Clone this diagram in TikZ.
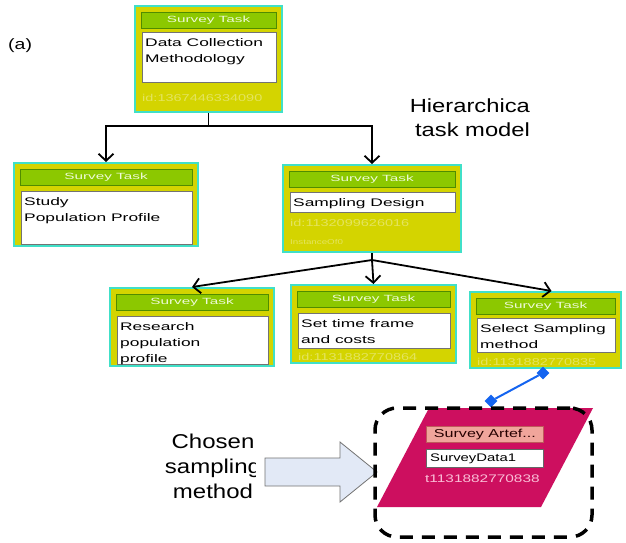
\documentclass[tikz,border=0pt]{standalone}
\usepackage{fontspec}
\setmainfont{Liberation Sans}
\usetikzlibrary{arrows.meta,fit,shapes.geometric}

\definecolor{tbcyan}{RGB}{64,224,200}
\definecolor{tbyellow}{RGB}{212,212,0}
\definecolor{tbgreen}{RGB}{140,200,0}
\definecolor{tbgreendk}{RGB}{80,140,0}
\definecolor{tbhead}{RGB}{238,250,215}
\definecolor{tbfaint}{RGB}{228,228,95}
\definecolor{artmag}{RGB}{205,15,95}
\definecolor{artpink}{RGB}{240,165,155}
\definecolor{artpinkdk}{RGB}{190,90,90}
\definecolor{artidtext}{RGB}{250,190,215}
\definecolor{linkblue}{RGB}{20,100,240}
\definecolor{bigarrow}{RGB}{226,233,246}

% horizontally widened text
\newcommand\hs[2]{\scalebox{#1}[1]{#2}}
\newcommand\bxl[1]{\hs{1.58}{#1}}

% a task box: name, left, top, right, bottom, text-area top, text-area bottom, text
\newcommand\taskbox[8]{%
  \node[taskouter, fit={(#2,#3) (#4,#5)}] (#1) {};
  \node[taskhead, fit={(#2+6,#3+6) (#4-6,#3+22)}] (#1-head) {};
  \node[headtext] at (#1-head) {\hs{1.7}{Survey Task}};
  \node[taskarea, fit={(#2+7,#6) (#4-6,#7)}] (#1-area) {};
  \node[tasktext, anchor=north west] (#1-text) at (#2+10,#6+6) {#8};
}

\begin{document}
\begin{tikzpicture}[x=1pt,y=-1pt,
  taskouter/.style={draw=tbcyan, line width=2pt, fill=tbyellow, inner sep=0pt},
  taskhead/.style={draw=tbgreendk, line width=0.8pt, fill=tbgreen, inner sep=0pt},
  headtext/.style={text=tbhead, font=\fontsize{9}{10}\selectfont, inner sep=0pt},
  taskarea/.style={draw=black!55, line width=0.8pt, fill=white, inner sep=0pt},
  tasktext/.style={font=\fontsize{11}{16}\selectfont, align=left, inner sep=0pt},
  idtext/.style={text=tbfaint, font=\fontsize{10}{12}\selectfont, inner sep=0pt, anchor=west},
  link/.style={draw=black, line width=1.8pt},
  tip/.style={-{Straight Barb[length=7pt,width=15pt]}},
  bluemark/.style={diamond, fill=linkblue, minimum size=13pt, inner sep=0pt},
  selbox/.style={draw=black, line width=3.5pt, rounded corners=22pt,
    dash pattern=on 13pt off 9pt, inner sep=0pt},
  biglabel/.style={font=\fontsize{20}{25}\selectfont, align=center, inner sep=0pt}
]
\useasboundingbox (0,0) rectangle (626,542);
\fill[white] (0,0) rectangle (626,542);

% label of the panel
\node[anchor=west, inner sep=0pt, font=\fontsize{15}{18}\selectfont] (panel) at (8,46) {\hs{1.3}{(a)}};

% task hierarchy
\taskbox{top}{135}{6}{282}{112}{32}{82}{\bxl{Data Collection}\\\bxl{Methodology}}
\node[idtext] (top-id) at (142,98) {\hs{1.45}{id:1367446334090}};

\taskbox{study}{14}{163}{198}{246}{191}{244}{\bxl{Study}\\\bxl{Population Profile}}

\taskbox{design}{283}{165}{461}{252}{192}{212}{\bxl{Sampling Design}}
\node[idtext] (design-id) at (290,223) {\hs{1.45}{id:1132099626016}};
\node[idtext, font=\fontsize{7}{8}\selectfont] (design-inst) at (290,242) {\hs{1.4}{InstanceOf0}};

\taskbox{research}{110}{288}{274}{366}{316}{364}{\bxl{Research}\\\bxl{population}\\\bxl{profile}}

\taskbox{timeframe}{291}{285}{456}{363}{313}{348}{\bxl{Set time frame}\\\bxl{and costs}}
\node[idtext] (timeframe-id) at (298,357) {\hs{1.45}{id:1131882770864}};

\taskbox{select}{470}{292}{621}{368}{318}{352}{\bxl{Select Sampling}\\\bxl{method}}
\node[idtext] (select-id) at (477,362) {\hs{1.45}{id:1131882770835}};

% hierarchy connectors
\path (top.south) ++(0,13) coordinate (j1);
\draw[link] (top.south) -- (j1);
\draw[link, tip] (j1) -| (study.north);
\draw[link, tip] (j1) -| (design.north);

\path (design.south) ++(0,7) coordinate (j2);
\draw[link] (design.south) -- (j2);
\draw[link, tip] (j2) -- (research.north);
\draw[link, tip] (j2) -- (timeframe.north);
\draw[link, tip] (j2) -- ([xshift=6pt]select.north);

% link to the artefact
\node[bluemark] (m1) at (543,373) {};
\node[bluemark] (m2) at (491,401) {};
\draw[linkblue, line width=2pt] (m1) -- (m2);

% artefact
\fill[artmag] (429,408) -- (593,408) -- (541,507) -- (377,507) -- cycle;
\node[draw=artpinkdk, line width=0.8pt, fill=artpink, minimum width=117pt, minimum height=16pt,
  inner sep=0pt, anchor=north west, font=\fontsize{11.5}{12}\selectfont, text=black!85!red]
  (artname) at (426,426) {\hs{1.4}{Survey Artef...}};
\node[draw=black!60, line width=0.8pt, fill=white, minimum width=117pt, minimum height=18pt,
  inner sep=0pt, anchor=north west] (artdata) at (426,449) {};
\node[anchor=west, inner sep=0pt, font=\fontsize{11}{12}\selectfont] (artdata-text)
  at ([xshift=4pt]artdata.west) {\hs{1.35}{SurveyData1}};
\node[anchor=west, inner sep=0pt, font=\fontsize{11}{12}\selectfont, text=artidtext] (artid)
  at (425,479) {\hs{1.4}{t1131882770838}};

% block arrow pointing at the chosen artefact
\draw[draw=black!55, fill=bigarrow, line width=0.8pt]
  (265,458) -- (340,458) -- (340,442) -- (377,472) -- (340,502) -- (340,486) -- (265,486) -- cycle;

% frame around the chosen artefact
\node[selbox, fit={(375,408) (592,537)}] (chosen) {};

% captions
\begin{scope}
  \clip (140,420) rectangle (255,515);
  \node[biglabel, anchor=north] (chosen-label) at (213,434)
    {\hs{1.2}{Chosen}\\\hs{1.2}{sampling}\\\hs{1.2}{method}};
\end{scope}
\begin{scope}
  \clip (395,85) rectangle (529,150);
  \node[biglabel, font=\fontsize{19}{24}\selectfont, anchor=north] (model-label) at (472.5,99)
    {\hs{1.25}{Hierarchical}\\\hs{1.25}{task model}};
\end{scope}
\end{tikzpicture}
\end{document}
